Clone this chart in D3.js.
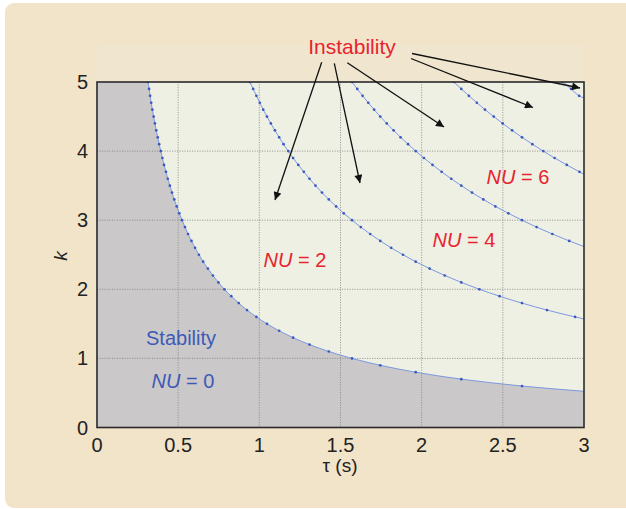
<!DOCTYPE html>
<html><head><meta charset="utf-8">
<script src="https://cdn.jsdelivr.net/npm/d3@7"></script>
<style>body{margin:0;background:#fff;}svg{display:block;font-family:"Liberation Sans",Arial,sans-serif;}</style>
</head><body>
<svg id="chart" width="626" height="509"></svg>
<script>
// ---- data ----
const xTicks = [0, 0.5, 1, 1.5, 2, 2.5, 3];
const xTickLabels = ["0", "0.5", "1", "1.5", "2", "2.5", "3"];
const yTicks = [0, 1, 2, 3, 4, 5];
const yTickLabels = ["0", "1", "2", "3", "4", "5"];

// boundary curves: tau (s) and k of the marked points
const curve1Tau = [0.314,0.321,0.327,0.334,0.341,0.349,0.357,0.365,0.374,0.383,0.393,0.403,0.413,0.425,0.436,0.449,0.462,0.476,0.491,0.507,0.524,0.542,0.561,0.582,0.604,0.628,0.654,0.683,0.714,0.748,0.785,0.827,0.873,0.924,0.982,1.047,1.122,1.208,1.309,1.428,1.571,1.745,1.963,2.244,2.618];
const curve1K   = [5.0,4.9,4.8,4.7,4.6,4.5,4.4,4.3,4.2,4.1,4.0,3.9,3.8,3.7,3.6,3.5,3.4,3.3,3.2,3.1,3.0,2.9,2.8,2.7,2.6,2.5,2.4,2.3,2.2,2.1,2.0,1.9,1.8,1.7,1.6,1.5,1.4,1.3,1.2,1.1,1.0,0.9,0.8,0.7,0.6];
const curve2Tau = [0.942,0.962,0.982,1.003,1.024,1.047,1.071,1.096,1.122,1.149,1.178,1.208,1.240,1.274,1.309,1.346,1.386,1.428,1.473,1.520,1.571,1.625,1.683,1.745,1.812,1.885,1.963,2.049,2.142,2.244,2.356,2.480,2.618,2.772,2.945];
const curve2K   = [5.0,4.9,4.8,4.7,4.6,4.5,4.4,4.3,4.2,4.1,4.0,3.9,3.8,3.7,3.6,3.5,3.4,3.3,3.2,3.1,3.0,2.9,2.8,2.7,2.6,2.5,2.4,2.3,2.2,2.1,2.0,1.9,1.8,1.7,1.6];
const curve3Tau = [1.571,1.603,1.636,1.671,1.707,1.745,1.785,1.827,1.870,1.916,1.963,2.014,2.067,2.123,2.182,2.244,2.310,2.380,2.454,2.534,2.618,2.708,2.805,2.909];
const curve3K   = [5.0,4.9,4.8,4.7,4.6,4.5,4.4,4.3,4.2,4.1,4.0,3.9,3.8,3.7,3.6,3.5,3.4,3.3,3.2,3.1,3.0,2.9,2.8,2.7];
const curve4Tau = [2.199,2.244,2.291,2.340,2.390,2.444,2.499,2.557,2.618,2.682,2.749,2.819,2.894,2.972];
const curve4K   = [5.0,4.9,4.8,4.7,4.6,4.5,4.4,4.3,4.2,4.1,4.0,3.9,3.8,3.7];
const curve5Tau = [2.87,2.92,2.97];
const curve5K   = [5.0,4.9,4.8];
// k of each curve where it leaves the plot at tau = 3
const curveEndK = [0.524, 1.571, 2.618, 3.665, 4.77];

const regionLabels = ["Stability", "NU = 0", "NU = 2", "NU = 4", "NU = 6"];
const annotationTitle = "Instability";

// ---- layout ----
const svg = d3.select("#chart");
const m = {left: 97, right: 584, top: 82, bottom: 427.5};
const x = d3.scaleLinear().domain([0, 3]).range([m.left, m.right]);
const y = d3.scaleLinear().domain([0, 5]).range([m.bottom, m.top]);

// outer beige panel
svg.append("rect").attr("x", 5).attr("y", 3).attr("width", 660).attr("height", 505)
  .attr("rx", 9).attr("fill", "#f1e4c9");
svg.append("rect").attr("x", m.left).attr("y", 45).attr("width", m.right - m.left).attr("height", m.top - 45)
  .attr("fill", "#f0e6cf");

const curves = [
  {tau: curve1Tau, k: curve1K},
  {tau: curve2Tau, k: curve2K},
  {tau: curve3Tau, k: curve3K},
  {tau: curve4Tau, k: curve4K},
  {tau: curve5Tau, k: curve5K}
].map((c, i) => {
  const pts = c.tau.map((t, j) => [t, c.k[j]]);
  return {pts: pts, line: pts.concat([[3, curveEndK[i]]])};
});

svg.append("defs").append("clipPath").attr("id", "clip")
  .append("rect").attr("x", m.left).attr("y", m.top).attr("width", m.right - m.left).attr("height", m.bottom - m.top);

const plot = svg.append("g").attr("clip-path", "url(#clip)");
plot.append("rect").attr("x", m.left).attr("y", m.top).attr("width", m.right - m.left).attr("height", m.bottom - m.top)
  .attr("fill", "#eef0e4");

const line = d3.line().x(d => x(d[0])).y(d => y(d[1])).curve(d3.curveMonotoneX);

// stability region under first curve
const stab = [[0, 5]].concat(curves[0].line).concat([[3, 0], [0, 0]]);
plot.append("path").attr("d", d3.line().x(d => x(d[0])).y(d => y(d[1]))(stab)).attr("fill", "#cbc8c9");

// grid
const gridX = xTicks.filter(v => v > 0 && v < 3);
const gridY = yTicks.filter(v => v > 0 && v < 5);
plot.selectAll(".gx").data(gridX).enter().append("line")
  .attr("x1", d => x(d)).attr("x2", d => x(d)).attr("y1", m.top).attr("y2", m.bottom)
  .attr("stroke", "#7d7d7d").attr("stroke-width", 1).attr("stroke-dasharray", "1.2,1.3").attr("opacity", 0.7);
plot.selectAll(".gy").data(gridY).enter().append("line")
  .attr("y1", d => y(d)).attr("y2", d => y(d)).attr("x1", m.left).attr("x2", m.right)
  .attr("stroke", "#7d7d7d").attr("stroke-width", 1).attr("stroke-dasharray", "1.2,1.3").attr("opacity", 0.7);

// curves
curves.forEach(c => {
  plot.append("path").attr("d", line(c.line)).attr("fill", "none")
    .attr("stroke", "#7d98e0").attr("stroke-width", 1);
  plot.selectAll(null).data(c.pts).enter().append("circle")
    .attr("cx", d => x(d[0])).attr("cy", d => y(d[1])).attr("r", 1.35).attr("fill", "#3a58c2");
});

// frame
svg.append("rect").attr("x", m.left).attr("y", m.top).attr("width", m.right - m.left).attr("height", m.bottom - m.top)
  .attr("fill", "none").attr("stroke", "#2a2a2a").attr("stroke-width", 1.6);

// axes labels
const tickFont = 20;
svg.selectAll(".xt").data(xTicks).enter().append("text")
  .attr("x", d => x(d)).attr("y", 452).attr("text-anchor", "middle")
  .attr("font-size", tickFont).attr("fill", "#222").text((d, i) => xTickLabels[i]);
svg.selectAll(".yt").data(yTicks).enter().append("text")
  .attr("x", 88).attr("y", d => y(d) + 7).attr("text-anchor", "end")
  .attr("font-size", tickFont).attr("fill", "#222").text((d, i) => yTickLabels[i]);

svg.append("text").attr("x", 340).attr("y", 472).attr("text-anchor", "middle")
  .attr("font-size", 19).attr("fill", "#222").text("τ (s)");
svg.append("text").attr("transform", "translate(67,256) rotate(-90)").attr("text-anchor", "middle")
  .attr("font-size", 19).attr("font-style", "italic").attr("fill", "#222").text("k");

// region labels
const red = "#e8232d", blue = "#3d5ab8";
svg.append("text").attr("x", 181).attr("y", 345).attr("text-anchor", "middle")
  .attr("font-size", 20).attr("fill", blue).text(regionLabels[0]);

function nuLabel(str, cx, by, color) {
  const parts = str.split(" = ");
  const t = svg.append("text").attr("x", cx).attr("y", by).attr("text-anchor", "middle")
    .attr("font-size", 20).attr("fill", color);
  t.append("tspan").attr("font-style", "italic").text(parts[0]);
  t.append("tspan").text(" = " + parts[1]);
}
nuLabel(regionLabels[1], 183, 388, blue);
nuLabel(regionLabels[2], 295, 267, red);
nuLabel(regionLabels[3], 464, 247, red);
nuLabel(regionLabels[4], 518, 184, red);

svg.append("text").attr("x", 352).attr("y", 54).attr("text-anchor", "middle")
  .attr("font-size", 21).attr("fill", red).text(annotationTitle);

// arrows
svg.append("defs").append("marker").attr("id", "ah").attr("viewBox", "0 0 10 10")
  .attr("refX", 10).attr("refY", 5).attr("markerWidth", 10).attr("markerHeight", 8)
  .attr("markerUnits", "userSpaceOnUse").attr("orient", "auto")
  .append("path").attr("d", "M0,0 L10,5 L0,10 Z").attr("fill", "#111");
const arrows = [
  [321.7, 62.3, 275, 200],
  [334.3, 63.3, 360, 183],
  [347.3, 62.7, 444, 127],
  [411, 58.5, 533, 107.5],
  [412, 53.5, 580, 88]
];
svg.selectAll(".ar").data(arrows).enter().append("line")
  .attr("x1", d => d[0]).attr("y1", d => d[1]).attr("x2", d => d[2]).attr("y2", d => d[3])
  .attr("stroke", "#111").attr("stroke-width", 1.3).attr("marker-end", "url(#ah)");
</script>
</body></html>
